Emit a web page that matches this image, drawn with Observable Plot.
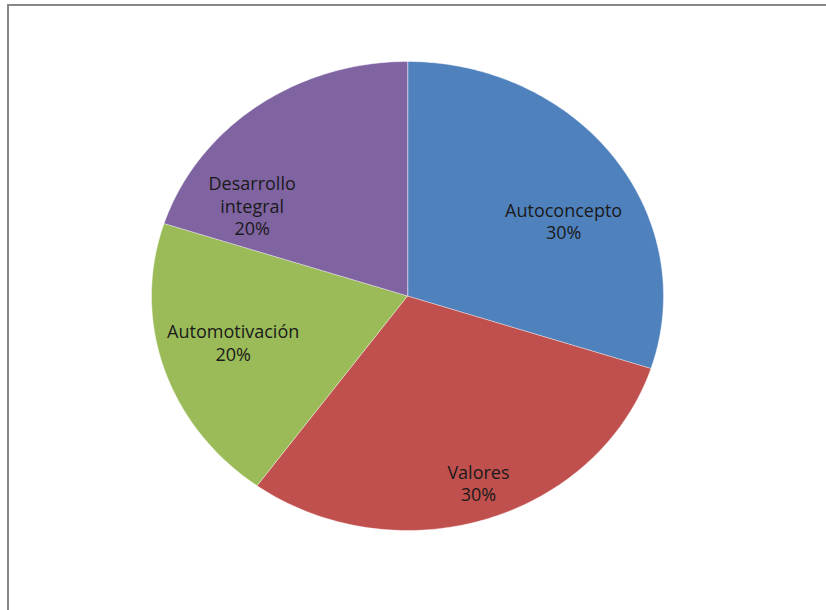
<!DOCTYPE html>
<html>
<head>
<meta charset="utf-8">
<script src="https://cdn.jsdelivr.net/npm/d3@7"></script>
<script src="https://cdn.jsdelivr.net/npm/@observablehq/plot@0.6"></script>
<style>
  html, body { margin: 0; padding: 0; background: #fff; }
  #wrap { position: relative; width: 826px; height: 610px; overflow: hidden; }
  #frame { position: absolute; left: 7px; top: 4px; width: 830px; height: 620px;
           border-top: 2px solid #878787; border-left: 2px solid #878787; }
  #chart { position: absolute; left: 0; top: 0; }
</style>
</head>
<body>
<div id="wrap"><div id="frame"></div><div id="chart"></div></div>
<script>
const categories = ["Autoconcepto", "Valores", "Automotivación", "Desarrollo integral"];
const values = [30, 30, 20, 20];
const colors = ["#4F81BD", "#C0504D", "#9BBB59", "#8064A2"];

// pixel nudges of the data labels (Excel-style placement)
const nudge = {
  "Autoconcepto": [7, 24],
  "Valores": [14, 26],
  "Automotivación": [1, -6],
  "Desarrollo integral": [-47, 46]
};

const RX = 256, RY = 234.5;
const total = d3.sum(values);
const arcs = d3.pie().sort(null).value(d => d.value)(categories.map((c, i) => ({cat: c, value: values[i]})));

const slicePts = [];
for (const a of arcs) {
  slicePts.push({cat: a.data.cat, x: 0, y: 0});
  const n = Math.max(8, Math.ceil((a.endAngle - a.startAngle) / (Math.PI / 180)));
  for (let k = 0; k <= n; k++) {
    const t = a.startAngle + (a.endAngle - a.startAngle) * k / n;
    slicePts.push({cat: a.data.cat, x: Math.sin(t), y: Math.cos(t)});
  }
}

const labels = arcs.map(a => {
  const m = (a.startAngle + a.endAngle) / 2;
  const [nx, ny] = nudge[a.data.cat];
  return {
    cat: a.data.cat,
    text: `${a.data.cat}\n${Math.round(a.data.value / total * 100)}%`,
    x: 0.72 * Math.sin(m) + nx / RX,
    y: 0.72 * Math.cos(m) - ny / RY
  };
});

const cx = 407, cy = 295.5;
const chart = Plot.plot({
  width: 826,
  height: 610,
  margin: 0,
  x: {domain: [-1, 1], range: [cx - RX, cx + RX], axis: null},
  y: {domain: [-1, 1], range: [cy + RY, cy - RY], axis: null},
  color: {domain: categories, range: colors},
  style: {background: "transparent"},
  marks: [
    Plot.line(slicePts, {x: "x", y: "y", z: "cat", fill: "cat", stroke: "#ffffff",
      strokeWidth: 0.8, strokeOpacity: 0.55, curve: "linear-closed"}),
    Plot.text(labels, {x: "x", y: "y", text: "text", lineWidth: 7, lineHeight: 1.25,
      fontSize: 18, fontFamily: "'Open Sans', sans-serif", fill: "#1a1a1a",
      textAnchor: "middle", lineAnchor: "middle"})
  ]
});
document.getElementById("chart").appendChild(chart);
</script>
</body>
</html>
